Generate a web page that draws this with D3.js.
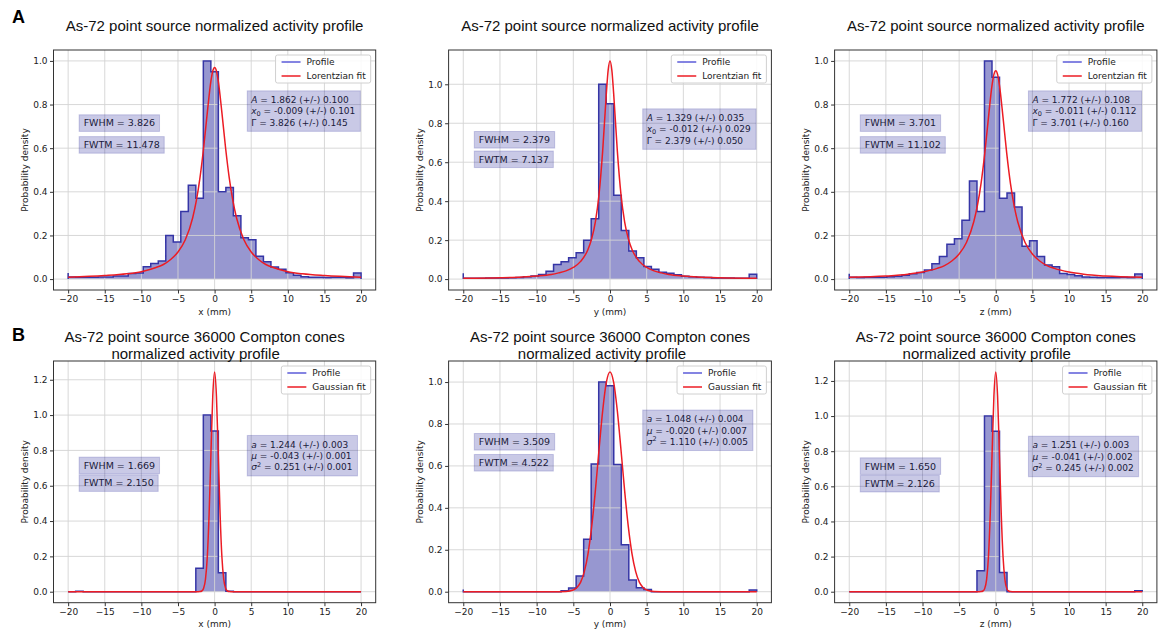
<!DOCTYPE html>
<html>
<head>
<meta charset="utf-8">
<script src="https://cdn.jsdelivr.net/npm/d3@7"></script>
<style>
  body { margin: 0; background: #fff; }
  svg text { font-family: "DejaVu Sans", sans-serif; }
  .title { font-family: "Liberation Sans", Arial, sans-serif; font-size: 15px; fill: #111; }
  .tick text { font-size: 9px; fill: #222; }
  .tick line { stroke: #333; }
</style>
</head>
<body>
<svg id="chart" width="1158" height="633"></svg>
<script>
// ---- data ----
var xTicks = [-20, -15, -10, -5, 0, 5, 10, 15, 20];
var yTicks = [0, 0.2, 0.4, 0.6, 0.8, 1.0, 1.2];

// 39 equal bins between -20 and 20
var binStart = -20, binEnd = 20, binCount = 39;

// histogram heights, row A (Lorentzian) and row B (Gaussian)
var profA_x = [0.010, 0.008, 0.008, 0.009, 0.010, 0.010, 0.014, 0.014, 0.026, 0.028,
               0.056, 0.071, 0.083, 0.200, 0.170, 0.310, 0.430, 0.370, 1.000, 0.950,
               0.400, 0.420, 0.290, 0.190, 0.180, 0.105, 0.080, 0.055, 0.045, 0.029,
               0.018, 0.011, 0.008, 0.008, 0.007, 0.008, 0.008, 0.006, 0.028];
var profA_y = [0.004, 0.004, 0.004, 0.005, 0.005, 0.006, 0.007, 0.008, 0.012, 0.016,
               0.024, 0.040, 0.075, 0.089, 0.109, 0.135, 0.200, 0.310, 1.000, 0.900,
               0.430, 0.250, 0.144, 0.109, 0.065, 0.050, 0.035, 0.030, 0.022, 0.015,
               0.012, 0.009, 0.008, 0.006, 0.006, 0.005, 0.004, 0.004, 0.025];
var profA_z = [0.008, 0.007, 0.008, 0.008, 0.009, 0.011, 0.013, 0.018, 0.024, 0.030,
               0.042, 0.070, 0.104, 0.160, 0.185, 0.270, 0.450, 0.310, 1.000, 0.925,
               0.370, 0.395, 0.330, 0.150, 0.176, 0.104, 0.065, 0.057, 0.026, 0.021,
               0.015, 0.010, 0.008, 0.007, 0.007, 0.007, 0.008, 0.007, 0.023];
var profB_x = [0, 0.003, 0, 0, 0, 0, 0, 0, 0, 0,
               0, 0, 0, 0, 0, 0, 0, 0.133, 1.000, 0.910,
               0.108, 0.003, 0, 0, 0, 0, 0, 0, 0, 0,
               0, 0, 0, 0, 0, 0, 0, 0, 0];
var profB_y = [0, 0, 0, 0, 0, 0, 0, 0, 0, 0,
               0, 0, 0, 0.005, 0.018, 0.075, 0.250, 0.609, 1.000, 0.982,
               0.607, 0.224, 0.056, 0.019, 0.010, 0, 0, 0, 0, 0,
               0, 0, 0, 0, 0, 0, 0, 0, 0.008];
var profB_z = [0, 0, 0, 0, 0, 0, 0, 0, 0, 0,
               0, 0, 0, 0, 0, 0, 0, 0.119, 1.000, 0.913,
               0.109, 0, 0, 0, 0, 0, 0, 0, 0, 0,
               0, 0, 0, 0, 0, 0, 0, 0, 0.005];
// the little spike drawn at x = -20
var edgeSpike = [0.028, 0.030, 0.025, 0, 0.010, 0];

// fitted curves
var lorXs = [-20, -15, -12, -10, -8, -7, -6, -5, -4, -3, -2.5, -2, -1.5, -1, -0.5, -0.25, 0,
             0.25, 0.5, 1, 1.5, 2, 2.5, 3, 4, 5, 6, 7, 8, 10, 12, 15, 20];
var lorA_x = [0.009, 0.016, 0.024, 0.034, 0.053, 0.067, 0.090, 0.124, 0.180, 0.280, 0.358, 0.464, 0.601, 0.762, 0.908, 0.954, 0.970,
              0.954, 0.908, 0.762, 0.601, 0.464, 0.358, 0.280, 0.180, 0.124, 0.090, 0.067, 0.053, 0.034, 0.024, 0.016, 0.009];
var lorA_y = [0.004, 0.007, 0.011, 0.016, 0.024, 0.032, 0.042, 0.060, 0.091, 0.152, 0.207, 0.293, 0.433, 0.657, 0.952, 1.073, 1.120,
              1.073, 0.952, 0.657, 0.433, 0.293, 0.207, 0.152, 0.091, 0.060, 0.042, 0.032, 0.024, 0.016, 0.011, 0.007, 0.004];
var lorA_z = [0.008, 0.014, 0.022, 0.032, 0.049, 0.062, 0.083, 0.115, 0.168, 0.263, 0.338, 0.440, 0.576, 0.739, 0.890, 0.938, 0.955,
              0.938, 0.890, 0.739, 0.576, 0.440, 0.338, 0.263, 0.168, 0.115, 0.083, 0.062, 0.049, 0.032, 0.022, 0.014, 0.008];

var gauNarrowXs = [-20, -5, -2.5, -2, -1.75, -1.5, -1.25, -1, -0.75, -0.5, -0.25, 0,
                   0.25, 0.5, 0.75, 1, 1.25, 1.5, 1.75, 2, 2.5, 5, 20];
var gauB_x = [0, 0, 0, 0.001, 0.004, 0.019, 0.069, 0.195, 0.439, 0.783, 1.108, 1.244,
              1.108, 0.783, 0.439, 0.195, 0.069, 0.019, 0.004, 0.001, 0, 0, 0];
var gauB_z = [0, 0, 0, 0.001, 0.004, 0.019, 0.069, 0.196, 0.442, 0.787, 1.114, 1.251,
              1.114, 0.787, 0.442, 0.196, 0.069, 0.019, 0.004, 0.001, 0, 0, 0];
var gauWideXs = [-20, -8, -6, -5, -4.5, -4, -3.5, -3, -2.5, -2, -1.5, -1, -0.5, 0,
                 0.5, 1, 1.5, 2, 2.5, 3, 3.5, 4, 4.5, 5, 6, 8, 20];
var gauB_y = [0, 0, 0.001, 0.008, 0.020, 0.046, 0.096, 0.181, 0.309, 0.480, 0.676, 0.862, 0.998, 1.048,
              0.998, 0.862, 0.676, 0.480, 0.309, 0.181, 0.096, 0.046, 0.020, 0.008, 0.001, 0, 0];

// text of the panels
var titleA = "As-72 point source normalized activity profile";
var titleB = ["As-72 point source 36000 Compton cones", "normalized activity profile"];
var axisNames = ["x (mm)", "y (mm)", "z (mm)"];
var fwhmLabels = ["FWHM = 3.826", "FWHM = 2.379", "FWHM = 3.701", "FWHM = 1.669", "FWHM = 3.509", "FWHM = 1.650"];
var fwtmLabels = ["FWTM = 11.478", "FWTM = 7.137", "FWTM = 11.102", "FWTM = 2.150", "FWTM = 4.522", "FWTM = 2.126"];
var paramA_x = ["1.862 (+/-) 0.100", "-0.009 (+/-) 0.101", "3.826 (+/-) 0.145"];
var paramA_y = ["1.329 (+/-) 0.035", "-0.012 (+/-) 0.029", "2.379 (+/-) 0.050"];
var paramA_z = ["1.772 (+/-) 0.108", "-0.011 (+/-) 0.112", "3.701 (+/-) 0.160"];
var paramB_x = ["1.244 (+/-) 0.003", "-0.043 (+/-) 0.001", "0.251 (+/-) 0.001"];
var paramB_y = ["1.048 (+/-) 0.004", "-0.020 (+/-) 0.007", "1.110 (+/-) 0.005"];
var paramB_z = ["1.251 (+/-) 0.003", "-0.041 (+/-) 0.002", "0.245 (+/-) 0.002"];

// ---- layout ----
var cols = [[53.5, 375.7], [448.6, 771.4], [834.6, 1156.9]];
var rows = [[50, 290], [361, 602.7]];
var titleShiftB = [[-10, -19], [0, -8], [0, -9]];

var panels = [
  {col: 0, row: 0, hist: profA_x, fitXs: lorXs, fit: lorA_x, kind: "lor", params: paramA_x},
  {col: 1, row: 0, hist: profA_y, fitXs: lorXs, fit: lorA_y, kind: "lor", params: paramA_y},
  {col: 2, row: 0, hist: profA_z, fitXs: lorXs, fit: lorA_z, kind: "lor", params: paramA_z},
  {col: 0, row: 1, hist: profB_x, fitXs: gauNarrowXs, fit: gauB_x, kind: "gau", params: paramB_x},
  {col: 1, row: 1, hist: profB_y, fitXs: gauWideXs, fit: gauB_y, kind: "gau", params: paramB_y},
  {col: 2, row: 1, hist: profB_z, fitXs: gauNarrowXs, fit: gauB_z, kind: "gau", params: paramB_z}
];

var histFill = "#9797d0";
var histLine = "#3535a6";
var fitColor = "#ec1c24";
var boxFill = "rgba(0,0,139,0.21)";
var boxStroke = "rgba(0,0,139,0.18)";

var svg = d3.select("#chart");
var edges = d3.range(binCount + 1).map(function(i) { return binStart + i * (binEnd - binStart) / binCount; });

// panel letters
svg.append("text").attr("x", 12).attr("y", 22.5)
  .style("font-family", "Liberation Sans, Arial, sans-serif").style("font-weight", "bold")
  .style("font-size", "18px").text("A");
svg.append("text").attr("x", 12).attr("y", 340.5)
  .style("font-family", "Liberation Sans, Arial, sans-serif").style("font-weight", "bold")
  .style("font-size", "18px").text("B");

panels.forEach(function(p, idx) {
  var x0 = cols[p.col][0], x1 = cols[p.col][1];
  var yTop = rows[p.row][0], yBot = rows[p.row][1];
  var ymax = Math.max(d3.max(p.hist), d3.max(p.fit));

  var xScale = d3.scaleLinear().domain([-22, 22]).range([x0, x1]);
  var yScale = d3.scaleLinear().domain([-0.05 * ymax, 1.05 * ymax]).range([yBot, yTop]);

  var g = svg.append("g");
  var clipId = "clip" + idx;
  g.append("clipPath").attr("id", clipId)
    .append("rect").attr("x", x0).attr("y", yTop).attr("width", x1 - x0).attr("height", yBot - yTop);

  var plot = g.append("g").attr("clip-path", "url(#" + clipId + ")");

  // histogram fill
  var stepData = edges.map(function(e, i) {
    return {x: e, y: p.hist[Math.min(i, binCount - 1)]};
  });
  var area = d3.area().curve(d3.curveStepAfter)
    .x(function(d) { return xScale(d.x); })
    .y0(yScale(0))
    .y1(function(d) { return yScale(d.y); });
  plot.append("path").datum(stepData).attr("d", area).attr("fill", histFill);

  // grid, sits over the fill like matplotlib
  var yt = yTicks.filter(function(v) { return v <= 1.05 * ymax; });
  plot.selectAll(".gx").data(xTicks).enter().append("line")
    .attr("x1", function(d) { return xScale(d); }).attr("x2", function(d) { return xScale(d); })
    .attr("y1", yTop).attr("y2", yBot)
    .attr("stroke", "#d4d4d4").attr("stroke-width", 0.9);
  plot.selectAll(".gy").data(yt).enter().append("line")
    .attr("y1", function(d) { return yScale(d); }).attr("y2", function(d) { return yScale(d); })
    .attr("x1", x0).attr("x2", x1)
    .attr("stroke", "#d4d4d4").attr("stroke-width", 0.9);

  // step outline
  var lineData = [{x: binStart, y: 0}, {x: binStart, y: edgeSpike[idx]}]
    .concat(stepData).concat([{x: binEnd, y: 0}]);
  var stepLine = d3.line().curve(d3.curveStepAfter)
    .x(function(d) { return xScale(d.x); })
    .y(function(d) { return yScale(d.y); });
  plot.append("path").datum(lineData).attr("d", stepLine)
    .attr("fill", "none").attr("stroke", histLine).attr("stroke-width", 1.5);

  // fit curve
  var fitLine = d3.line().curve(d3.curveMonotoneX)
    .x(function(d, i) { return xScale(p.fitXs[i]); })
    .y(function(d) { return yScale(d); });
  plot.append("path").datum(p.fit).attr("d", fitLine)
    .attr("fill", "none").attr("stroke", fitColor).attr("stroke-width", 1.5);

  // axes
  var xAxis = d3.axisBottom(xScale).tickValues(xTicks).tickSize(3.5).tickPadding(2.5)
    .tickFormat(d3.format("d"));
  g.append("g").attr("transform", "translate(0," + yBot + ")").call(xAxis)
    .call(function(s) { s.select(".domain").remove(); });
  var yAxis = d3.axisLeft(yScale).tickValues(yt).tickSize(3.5).tickPadding(2.5)
    .tickFormat(d3.format(".1f"));
  g.append("g").attr("transform", "translate(" + x0 + ",0)").call(yAxis)
    .call(function(s) { s.select(".domain").remove(); });
  g.selectAll(".tick text").attr("font-family", null);

  // frame
  g.append("rect").attr("x", x0).attr("y", yTop).attr("width", x1 - x0).attr("height", yBot - yTop)
    .attr("fill", "none").attr("stroke", "#333").attr("stroke-width", 1);

  // axis labels
  g.append("text").attr("x", (x0 + x1) / 2).attr("y", yBot + 24.5)
    .attr("text-anchor", "middle").style("font-size", "9px").style("fill", "#222")
    .text(axisNames[p.col]);
  g.append("text")
    .attr("transform", "translate(" + (x0 - 25.5) + "," + ((yTop + yBot) / 2) + ") rotate(-90)")
    .attr("text-anchor", "middle").style("font-size", "9px").style("fill", "#222")
    .text("Probability density");

  // titles
  var cx = (x0 + x1) / 2;
  if (p.row === 0) {
    g.append("text").attr("class", "title").attr("x", cx).attr("y", 30.5)
      .attr("text-anchor", "middle").text(titleA);
  } else {
    g.append("text").attr("class", "title").attr("x", cx + titleShiftB[p.col][0]).attr("y", 341.5)
      .attr("text-anchor", "middle").text(titleB[0]);
    g.append("text").attr("class", "title").attr("x", cx + titleShiftB[p.col][1]).attr("y", 358.5)
      .attr("text-anchor", "middle").text(titleB[1]);
  }

  // FWHM / FWTM boxes
  function labelBox(txt, yData) {
    var bg = g.append("g");
    var rect = bg.append("rect");
    var t = bg.append("text").attr("x", xScale(-18.5) + 4.5).attr("y", yScale(yData) + 3.4)
      .style("font-size", "9.5px").style("fill", "#1a1a3a").text(txt);
    var bb = t.node().getBBox();
    rect.attr("x", bb.x - 4.5).attr("y", yScale(yData) - 8.3)
      .attr("width", bb.width + 9).attr("height", 16.6)
      .attr("fill", boxFill).attr("stroke", boxStroke);
  }
  labelBox(fwhmLabels[idx], 0.715);
  labelBox(fwtmLabels[idx], 0.615);

  // fit parameter box
  var pg = g.append("g");
  var prect = pg.append("rect");
  var lineH = 11.3;
  var pc = yScale(0.77);
  var px = xScale(4.46) + 4;
  var syms = p.kind === "lor" ? ["A", "x", "\u0393"] : ["a", "\u03bc", "\u03c3"];
  p.params.forEach(function(val, i) {
    var t = pg.append("text").attr("x", px).attr("y", pc + (i - 1) * lineH + 3.3)
      .style("font-size", "9px").style("fill", "#1a1a3a");
    var s = t.append("tspan").text(syms[i]);
    if (!(p.kind === "lor" && i === 2)) s.style("font-style", "italic");
    if (p.kind === "lor" && i === 1) {
      t.append("tspan").attr("dy", 2).style("font-size", "6.5px").text("0");
      t.append("tspan").attr("dy", -2).text(" = " + val);
    } else if (p.kind === "gau" && i === 2) {
      t.append("tspan").attr("dy", -3.5).style("font-size", "6.5px").text("2");
      t.append("tspan").attr("dy", 3.5).text(" = " + val);
    } else {
      t.append("tspan").text(" = " + val);
    }
  });
  var pb = pg.node().getBBox();
  prect.attr("x", px - 4).attr("y", pc - 1.5 * lineH - 3.3)
    .attr("width", pb.width + 8).attr("height", 3 * lineH + 6.6)
    .attr("fill", boxFill).attr("stroke", boxStroke);

  // legend
  var lg = g.append("g");
  var lrect = lg.append("rect");
  var names = ["Profile", p.kind === "lor" ? "Lorentzian fit" : "Gaussian fit"];
  var colors = ["#5b5bd8", fitColor];
  var maxW = 0;
  var texts = names.map(function(n, i) {
    var t = lg.append("text").attr("y", yTop + 12 + i * 14 + 3.2)
      .style("font-size", "9px").style("fill", "#222").text(n);
    maxW = Math.max(maxW, t.node().getComputedTextLength());
    return t;
  });
  var lw = 31 + maxW + 5;
  var lx = x1 - 5 - lw;
  lrect.attr("x", lx).attr("y", yTop + 5).attr("width", lw).attr("height", 28)
    .attr("rx", 2).attr("fill", "rgba(255,255,255,0.85)").attr("stroke", "#d0d0d0");
  texts.forEach(function(t, i) {
    t.attr("x", lx + 31);
    lg.append("line").attr("x1", lx + 6).attr("x2", lx + 25)
      .attr("y1", yTop + 12 + i * 14).attr("y2", yTop + 12 + i * 14)
      .attr("stroke", colors[i]).attr("stroke-width", 1.5);
  });
});
</script>
</body>
</html>
